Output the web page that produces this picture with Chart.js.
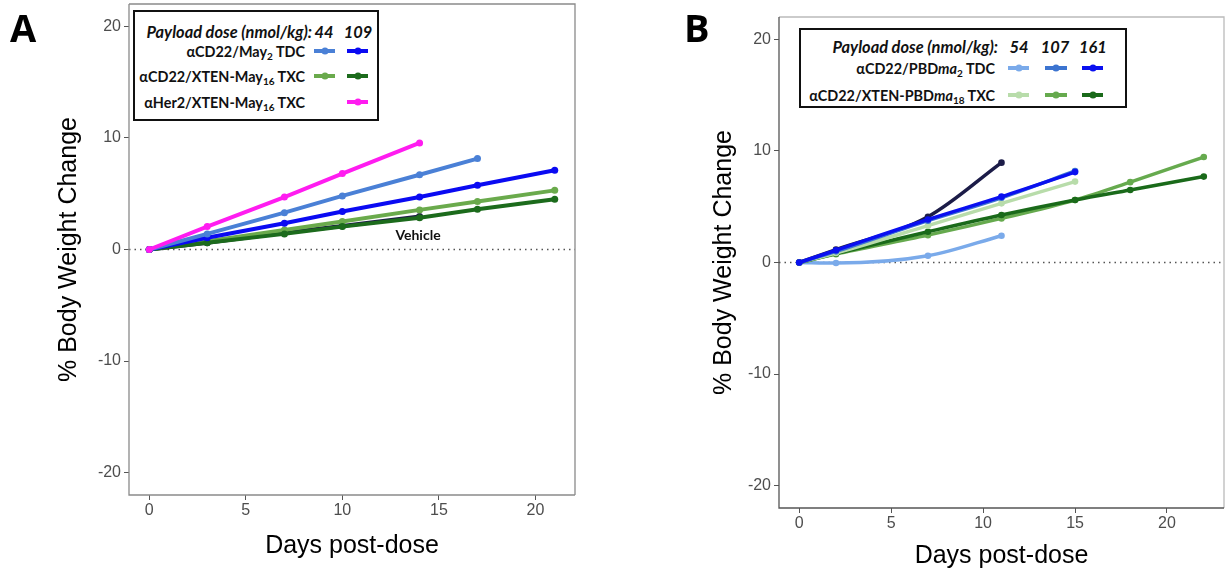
<!DOCTYPE html>
<html>
<head>
<meta charset="utf-8">
<script src="https://cdn.jsdelivr.net/npm/chart.js@4.4.1/dist/chart.umd.min.js"></script>
<style>
  body{margin:0;background:#fff;width:1228px;height:575px;position:relative;overflow:hidden;font-family:Lato,sans-serif}
  canvas{position:absolute;top:0}
  #cA{left:0}
  #cB{left:655px}
  .panel{position:absolute;font:bold 38px "Open Sans",sans-serif;color:#000}
  .legend{position:absolute;box-sizing:border-box;border:2px solid #111;background:#fff}
  .t{position:absolute;white-space:nowrap;transform:translateY(-50%);font:bold 14.4px Lato,sans-serif;color:#111}
  .t.h{font-size:16.4px}
  .t.r{transform:translate(-100%,-50%)}
  .t.c{transform:translate(-50%,-50%)}
  .t i{font-style:italic}
  sub{font-size:10px;vertical-align:-3px;line-height:0}
  .sw{position:absolute;height:4px;transform:translateY(-50%)}
  .sw b{position:absolute;left:50%;top:50%;width:7px;height:7px;border-radius:50%;transform:translate(-50%,-50%);background:inherit}
</style>
</head>
<body>
<canvas id="cA" width="600" height="575"></canvas>
<canvas id="cB" width="573" height="575"></canvas>

<div class="panel" style="left:10px;top:1px">A</div>
<div class="panel" style="left:684px;top:1px">B</div>

<!-- legend A -->
<div class="legend" style="left:133px;top:10px;width:246px;height:111px"></div>
<div class="t r h" style="left:312px;top:31px"><i>Payload dose (nmol/kg):</i></div>
<div class="t c h" style="left:324px;top:31px"><i>44</i></div>
<div class="t c h" style="left:358px;top:31px"><i>109</i></div>
<div class="t r" style="left:305px;top:51px">&alpha;CD22/May<sub>2</sub> TDC</div>
<div class="t r" style="left:305px;top:76px">&alpha;CD22/XTEN-May<sub>16</sub> TXC</div>
<div class="t r" style="left:305px;top:102px">&alpha;Her2/XTEN-May<sub>16</sub> TXC</div>
<div class="sw" style="left:314px;top:51px;width:21px;background:#4a80d6"><b></b></div>
<div class="sw" style="left:347px;top:51px;width:21px;background:#0a0af2"><b></b></div>
<div class="sw" style="left:314px;top:76px;width:21px;background:#6aaa4c"><b></b></div>
<div class="sw" style="left:347px;top:76px;width:21px;background:#1c6b1c"><b></b></div>
<div class="sw" style="left:347px;top:102px;width:21px;background:#ff1cf0"><b></b></div>

<div class="t c" style="left:418px;top:234px;font-size:14px">Vehicle</div>

<!-- legend B -->
<div class="legend" style="left:799px;top:28px;width:328px;height:80px"></div>
<div class="t r h" style="left:998px;top:46px"><i>Payload dose (nmol/kg):</i></div>
<div class="t c h" style="left:1019px;top:46px"><i>54</i></div>
<div class="t c h" style="left:1055px;top:46px"><i>107</i></div>
<div class="t c h" style="left:1093px;top:46px"><i>161</i></div>
<div class="t r" style="left:995px;top:68px">&alpha;CD22/PBD<i>ma</i><sub>2</sub> TDC</div>
<div class="t r" style="left:995px;top:95px">&alpha;CD22/XTEN-PBD<i>ma</i><sub>18</sub> TXC</div>
<div class="sw" style="left:1008px;top:68px;width:21px;background:#7aaaea"><b></b></div>
<div class="sw" style="left:1045px;top:68px;width:22px;background:#3c74d0"><b></b></div>
<div class="sw" style="left:1082px;top:68px;width:21px;background:#0a10f0"><b></b></div>
<div class="sw" style="left:1008px;top:95px;width:21px;background:#b8dcaa"><b></b></div>
<div class="sw" style="left:1045px;top:95px;width:22px;background:#66aa4e"><b></b></div>
<div class="sw" style="left:1082px;top:95px;width:21px;background:#1a6a1a"><b></b></div>

<script>
// ---- data, panel A ----
const daysA = [0, 3, 7, 10, 14, 17, 21];
const her2Txc44A = [0, 2.05, 4.7, 6.8, 9.55];
const tdc44A = [0, 1.4, 3.3, 4.8, 6.7, 8.15];
const tdc109A = [0, 1.05, 2.35, 3.4, 4.7, 5.75, 7.1];
const txc44A = [0, 0.75, 1.75, 2.5, 3.55, 4.3, 5.3];
const txc109A = [0, 0.6, 1.4, 2.05, 2.85, 3.6, 4.5];
const vehicleA = [0, 0.6, 1.5, 2.1, 2.95];

// ---- data, panel B ----
const daysB = [0, 2, 7, 11, 15, 18, 22];
const vehicleB = [0, 1.15, 4.1, 8.95];
const tdc54B = [0, -0.05, 0.6, 2.4];
const tdc107B = [0, 1.0, 3.75, 5.8, 8.2];
const tdc161B = [0, 1.1, 3.85, 5.9, 8.1];
const txc54B = [0, 0.85, 3.3, 5.3, 7.25];
const txc107B = [0, 0.75, 2.45, 3.95, 5.6, 7.2, 9.45];
const txc161B = [0, 0.8, 2.75, 4.25, 5.6, 6.5, 7.7];

// ---- ticks ----
const xTicks = [0, 5, 10, 15, 20];
const yTicks = [-20, -10, 0, 10, 20];

const pts = (days, vals) => vals.map((v, i) => ({x: days[i], y: v}));

// zero line + frame
const framePlugin = {
  id: 'frame',
  beforeDatasetsDraw(chart, args, opts) {
    const {ctx, chartArea: a, scales} = chart;
    const y0 = scales.y.getPixelForValue(0);
    ctx.save();
    ctx.setLineDash([1.5, 4]);
    ctx.strokeStyle = '#555';
    ctx.lineWidth = 1.3;
    ctx.beginPath(); ctx.moveTo(a.left, y0); ctx.lineTo(a.right, y0); ctx.stroke();
    ctx.restore();
  },
  afterDraw(chart, args, opts) {
    const {ctx, chartArea: a} = chart;
    ctx.save();
    ctx.lineWidth = 1.3;
    ctx.strokeStyle = opts.light;
    ctx.beginPath();
    ctx.moveTo(a.left, a.top); ctx.lineTo(a.right, a.top); ctx.lineTo(a.right, a.bottom);
    ctx.stroke();
    ctx.strokeStyle = opts.dark;
    ctx.beginPath();
    ctx.moveTo(a.left, a.top); ctx.lineTo(a.left, a.bottom); ctx.lineTo(a.right, a.bottom);
    ctx.stroke();
    ctx.restore();
  }
};

function makeChart(id, datasets, xr, pad, yW, xH, frame) {
  const tickFont = {family: 'Liberation Sans', size: 16};
  const titleFont = {family: 'Liberation Sans', size: 25};
  return new Chart(document.getElementById(id), {
    type: 'line',
    data: {datasets},
    plugins: [framePlugin],
    options: {
      responsive: false, animation: false,
      layout: {padding: pad},
      plugins: {legend: {display: false}, tooltip: {enabled: false}, frame},
      scales: {
        x: {
          type: 'linear', min: xr[0], max: xr[1],
          afterBuildTicks: s => { s.ticks = xTicks.map(v => ({value: v})); },
          afterFit: s => { s.height = xH; s.paddingLeft = 0; s.paddingRight = 0; },
          ticks: {color: '#4d4d4d', font: tickFont, padding: 1, maxRotation: 0, autoSkip: false},
          grid: {drawOnChartArea: false, tickLength: 5, color: '#555'},
          border: {display: false},
          title: {display: true, text: 'Days post-dose', color: '#000', font: titleFont, padding: 4}
        },
        y: {
          min: -22, max: 22,
          afterBuildTicks: s => { s.ticks = yTicks.map(v => ({value: v})); },
          afterFit: s => { s.width = yW; s.paddingTop = 0; s.paddingBottom = 0; },
          ticks: {color: '#4d4d4d', font: tickFont, padding: 3, autoSkip: false},
          grid: {drawOnChartArea: false, tickLength: 5, color: '#555'},
          border: {display: false},
          title: {display: true, text: '% Body Weight Change', color: '#000', font: titleFont, padding: 4}
        }
      }
    }
  });
}

const lineA = (data, color) => ({data, borderColor: color, backgroundColor: color,
  borderWidth: 4, pointRadius: 3.5, pointBorderWidth: 0, tension: 0});
const lineB = (data, color) => ({data, borderColor: color, backgroundColor: color,
  borderWidth: 3.5, pointRadius: 3.3, pointBorderWidth: 0, cubicInterpolationMode: 'monotone'});

// first dataset is drawn on top
makeChart('cA', [
  lineA(pts(daysA, her2Txc44A), '#ff1cf0'),
  lineA(pts(daysA, tdc44A), '#4a80d6'),
  lineA(pts(daysA, tdc109A), '#0a0af2'),
  lineA(pts(daysA, txc109A), '#1c6b1c'),
  lineA(pts(daysA, txc44A), '#6aaa4c'),
  lineA(pts(daysA, vehicleA), '#1c1c44')
], [-1.05, 22.05], {left: 50, right: 25, top: 4, bottom: 10}, 79, 70, {light: '#8a8a8a', dark: '#8a8a8a'});

makeChart('cB', [
  lineB(pts(daysB, tdc161B), '#0a10f0'),
  lineB(pts(daysB, tdc107B), '#3c74d0'),
  lineB(pts(daysB, vehicleB), '#1c1c48'),
  lineB(pts(daysB, txc54B), '#b8dcaa'),
  lineB(pts(daysB, txc161B), '#1a6a1a'),
  lineB(pts(daysB, txc107B), '#66aa4e'),
  lineB(pts(daysB, tdc54B), '#7aaaea')
], [-1.1, 23.1], {left: 50, right: 2, top: 17, bottom: 0}, 74, 67, {light: '#bbbbbb', dark: '#555555'});
</script>
</body>
</html>
